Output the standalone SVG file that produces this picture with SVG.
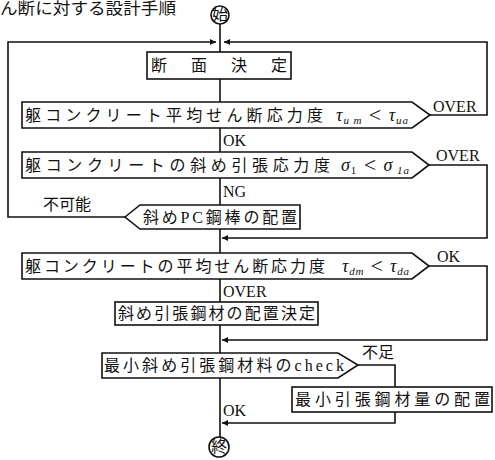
<svg xmlns="http://www.w3.org/2000/svg" width="495" height="460" viewBox="0 0 495 460">
<style>
.t{font-family:"Liberation Serif","Noto Sans CJK JP",serif;font-size:16px;fill:#111}
.m{font-family:"Liberation Serif",serif;font-style:italic;font-size:18px;fill:#111}
.s{font-size:11px}
.lt{font-style:normal;font-size:22px}
.b{fill:#fff;stroke:#111;stroke-width:1.6}
.c{fill:none;stroke:#111;stroke-width:1.6}
</style>
<defs>
<marker id="a" viewBox="0 0 10 10" refX="10" refY="5" markerWidth="8" markerHeight="6" markerUnits="userSpaceOnUse" orient="auto">
<path d="M0,0 L10,5 L0,10 z" fill="#111"/>
</marker>
</defs>
<rect width="495" height="460" fill="#fff"/>
<text class="t" x="0" y="14" font-size="16" textLength="176" lengthAdjust="spacingAndGlyphs">ん断に対する設計手順</text>

<g id="connectors">
<line class="c" x1="220" y1="24" x2="220" y2="52"/>
<path class="c" d="M125,217 H8 V42 H216" marker-end="url(#a)"/>
<path class="c" d="M430,115 H487 V42 H224" marker-end="url(#a)"/>
<line class="c" x1="220" y1="79" x2="220" y2="102"/>
<line class="c" x1="220" y1="128" x2="220" y2="152"/>
<line class="c" x1="220" y1="178" x2="220" y2="253"/>
<path class="c" d="M429,165 H487 V238 H222" marker-end="url(#a)"/>
<line class="c" x1="220" y1="279" x2="220" y2="353"/>
<path class="c" d="M429,266 H487 V340 H222" marker-end="url(#a)"/>
<line class="c" x1="220" y1="378" x2="220" y2="437"/>
<path class="c" d="M358,365 H395 V423 H222" marker-end="url(#a)"/>
</g>

<g id="start">
<circle class="b" cx="220" cy="15" r="9"/>
<text class="t" x="220" y="20" font-size="12" text-anchor="middle">始</text>
</g>

<g id="n1">
<rect class="b" x="147" y="52" width="144" height="27"/>
<text class="t" x="151" y="71" font-size="17" textLength="136" lengthAdjust="spacing">断　面　決　定</text>
</g>

<g id="n2">
<polygon class="b" points="22,102 412,102 430,115 412,128 22,128"/>
<text class="t" x="25" y="121" textLength="298" lengthAdjust="spacing">躯コンクリート平均せん断応力度</text>
<text class="m" x="336" y="121" textLength="72" lengthAdjust="spacing">τ<tspan class="s" dy="3">u m</tspan><tspan class="lt" dy="-2"> &lt; </tspan><tspan dy="-1">τ</tspan><tspan class="s" dy="3">ua</tspan></text>
</g>

<g id="n3">
<polygon class="b" points="22,152 412,152 429,165 412,178 22,178"/>
<text class="t" x="25" y="171" textLength="305" lengthAdjust="spacing">躯コンクリートの斜め引張応力度</text>
<text class="m" x="341" y="171" textLength="68" lengthAdjust="spacing">σ<tspan class="s" dy="3" font-style="normal">1</tspan><tspan class="lt" dy="-2"> &lt; </tspan><tspan dy="-1">σ</tspan><tspan class="s" dy="3"> 1a</tspan></text>
</g>

<g id="n4">
<polygon class="b" points="125,217 140,205 300,205 300,229 140,229"/>
<text class="t" x="143" y="223" textLength="154" lengthAdjust="spacing">斜めPC鋼棒の配置</text>
</g>

<g id="n5">
<polygon class="b" points="22,253 412,253 429,266 412,279 22,279"/>
<text class="t" x="25" y="272" textLength="300" lengthAdjust="spacing">躯コンクリートの平均せん断応力度</text>
<text class="m" x="342" y="272" textLength="67" lengthAdjust="spacing">τ<tspan class="s" dy="3">dm</tspan><tspan class="lt" dy="-2"> &lt; </tspan><tspan dy="-1">τ</tspan><tspan class="s" dy="3">da</tspan></text>
</g>

<g id="n6">
<rect class="b" x="115" y="302" width="203" height="23"/>
<text class="t" x="118" y="319" textLength="197" lengthAdjust="spacing">斜め引張鋼材の配置決定</text>
</g>

<g id="n7">
<polygon class="b" points="102,353 338,353 358,365 338,378 102,378"/>
<text class="t" x="104" y="371" textLength="240" lengthAdjust="spacing">最小斜め引張鋼材料のcheck</text>
</g>

<g id="n8">
<rect class="b" x="292" y="387" width="200" height="25"/>
<text class="t" x="295" y="405" textLength="195" lengthAdjust="spacing">最小引張鋼材量の配置</text>
</g>

<g id="end">
<circle class="b" cx="219" cy="447" r="10"/>
<text class="t" x="219" y="452" font-size="12" text-anchor="middle">終</text>
</g>

<g id="labels">
<text class="t" x="433" y="112" font-size="17">OVER</text>
<text class="t" x="223" y="146" font-size="17">OK</text>
<text class="t" x="436" y="161" font-size="17">OVER</text>
<text class="t" x="223" y="197" font-size="17">NG</text>
<text class="t" x="43" y="210" font-size="15">不可能</text>
<text class="t" x="437" y="262" font-size="17">OK</text>
<text class="t" x="223" y="297" font-size="17">OVER</text>
<text class="t" x="362" y="358" font-size="15">不足</text>
<text class="t" x="223" y="416" font-size="17">OK</text>
</g>
</svg>
